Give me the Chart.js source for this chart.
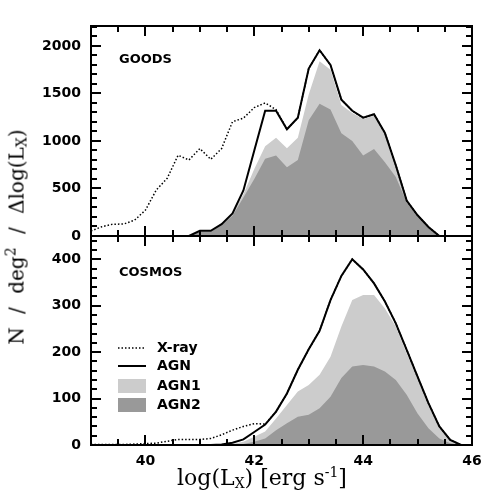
<!DOCTYPE html>
<html>
<head>
<meta charset="utf-8">
<script src="https://cdn.jsdelivr.net/npm/chart.js@4.4.1/dist/chart.umd.min.js"></script>
<style>
  html, body { margin: 0; padding: 0; background: #fff; }
  #wrap { position: relative; width: 498px; height: 498px; overflow: hidden; }
  canvas { position: absolute; left: 0; }
  #topChart { top: 0; }
  #botChart { top: 216px; }
  .title { position: absolute; font-family: 'DejaVu Serif', serif; font-size: 20px; color: #000; white-space: nowrap; }
  .title sub, .title sup { font-size: 14px; }
  .title sub { vertical-align: -3px; }
  .title sup { vertical-align: 8px; line-height: 0; }
  #ytitle { left: 17px; top: 237px; transform: translate(-50%, -50%) rotate(-90deg); word-spacing: 7px; }
  #xtitle { left: 262px; top: 478px; transform: translate(-50%, -50%); font-size: 22px; }
</style>
</head>
<body>
<div id="wrap">
  <canvas id="topChart" width="498" height="256"></canvas>
  <canvas id="botChart" width="498" height="282"></canvas>
  <div class="title" id="ytitle">N / deg<sup>2</sup> / &Delta;log(L<sub>X</sub>)</div>
  <div class="title" id="xtitle">log(L<sub>X</sub>) [erg s<sup>-1</sup>]</div>
</div>
<script>
'use strict';

// ── data: bin centres in log(Lx), 0.2 dex wide ──
const logL = [39.0, 39.2, 39.4, 39.6, 39.8, 40.0, 40.2, 40.4, 40.6, 40.8,
              41.0, 41.2, 41.4, 41.6, 41.8, 42.0, 42.2, 42.4, 42.6, 42.8,
              43.0, 43.2, 43.4, 43.6, 43.8, 44.0, 44.2, 44.4, 44.6, 44.8,
              45.0, 45.2, 45.4, 45.6, 45.8, 46.0];

// GOODS
const goodsXray = [53, 98, 124, 126, 166, 272, 485, 607, 850, 800,
                   920, 807, 920, 1203, 1240, 1352, 1400, 1330, 1123, 1245,
                   1762, 1955, 1800, 1435, 1318, 1245, 1282, 1085, 745, 372,
                   218, 95, 0, null, null, null];
const goodsAgn  = [null, null, null, null, null, null, null, null, null, 0,
                   55, 55, 125, 238, 480, 900, 1319, 1319, 1123, 1245,
                   1762, 1955, 1800, 1435, 1318, 1245, 1282, 1085, 745, 372,
                   218, 95, 0, null, null, null];
const goodsAgn1 = [null, null, null, null, null, null, null, null, null, 0,
                   5, 5, 6, 13, 35, 105, 133, 187, 200, 235,
                   272, 448, 420, 298, 295, 382, 350, 288, 95, 7,
                   8, 5, 0, null, null, null];
const goodsAgn2 = [null, null, null, null, null, null, null, null, null, 0,
                   45, 45, 112, 212, 405, 600, 812, 848, 723, 800,
                   1218, 1392, 1330, 1081, 1000, 848, 915, 775, 620, 355,
                   200, 85, 0, null, null, null];

// COSMOS
const cosmosXray = [1, 1, 1, 1, 2, 3, 4, 8, 12, 12,
                    12, 14, 22, 32, 40, 46, 45, 72, 111, 162,
                    206, 246, 312, 364, 400, 378, 348, 309, 262, 205,
                    147, 90, 40, 11, 0, null];
const cosmosAgn  = [null, null, null, null, null, null, null, null, null, null,
                    0, 0, 1, 5, 12, 28, 44, 72, 111, 162,
                    206, 246, 312, 364, 400, 378, 348, 309, 262, 205,
                    147, 90, 40, 11, 0, null];
const cosmosAgn1 = [null, null, null, null, null, null, null, null, null, null,
                    null, null, 0, 1, 5, 11, 15, 25, 39, 54,
                    64, 72, 86, 111, 143, 151, 154, 136, 115, 89,
                    76, 50, 22, 5, 0, null];
const cosmosAgn2 = [null, null, null, null, null, null, null, null, null, null,
                    null, null, 0, 1, 2, 7, 14, 32, 47, 61,
                    65, 79, 104, 144, 169, 172, 169, 158, 140, 108,
                    68, 36, 14, 4, 0, null];

const xTicks = [40, 42, 44, 46];
const goodsTicks = [0, 500, 1000, 1500, 2000];
const cosmosTicks = [0, 100, 200, 300, 400];

const LIGHT = '#cccccc';
const DARK = '#999999';
const FONT = "'DejaVu Sans', sans-serif";

const pts = (arr) => logL.map((x, i) => ({ x, y: arr[i] })).filter((p) => p.y !== null);

// ─────────────────────────────────────────────
// frame + inward ticks on all four sides (filled rects)
// ─────────────────────────────────────────────
const frameTicks = {
  id: 'frameTicks',
  afterDraw(chart) {
    const o = chart.options.plugins.frameTicks;
    const ctx = chart.ctx;
    const a = chart.chartArea;
    const xs = chart.scales.x, ys = chart.scales.y;
    const yMinor = Number(o.yMinor), yMajor = Number(o.yMajor);
    const isMult = (v, m) => Math.abs(v / m - Math.round(v / m)) < 1e-6;
    const L = Math.round(a.left), R = Math.round(a.right);
    const T = Math.round(a.top), B = Math.round(a.bottom);
    const w = 2;

    ctx.save();
    ctx.fillStyle = '#000';
    for (let v = 39; v <= 46.0001; v += 0.5) {
      const px = Math.round(xs.getPixelForValue(v));
      const len = isMult(v, 2) ? 10 : 6;
      ctx.fillRect(px - 1, B - len, w, len);
      ctx.fillRect(px - 1, T, w, len);
    }
    for (let v = 0; v <= ys.max + 1e-6; v += yMinor) {
      const py = Math.round(ys.getPixelForValue(v));
      const len = isMult(v, yMajor) ? 10 : 6;
      ctx.fillRect(L, py - 1, len, w);
      ctx.fillRect(R - len, py - 1, len, w);
    }
    // box
    ctx.fillRect(L - 1, T - 1, R - L + 2, w);
    ctx.fillRect(L - 1, B - 1, R - L + 2, w);
    ctx.fillRect(L - 1, T - 1, w, B - T + 2);
    ctx.fillRect(R - 1, T - 1, w, B - T + 2);

    // panel name
    ctx.font = 'bold 13px ' + FONT;
    ctx.textBaseline = 'middle';
    ctx.fillText(o.label, L + 28, T + Number(o.labelDy));
    ctx.restore();
  }
};

// ─────────────────────────────────────────────
// legend drawn inside the lower panel
// ─────────────────────────────────────────────
const innerLegend = {
  id: 'innerLegend',
  afterDraw(chart) {
    const o = chart.options.plugins.innerLegend;
    if (!o || !o.show) return;
    const { ctx, chartArea: a } = chart;
    const order = ['X-ray', 'AGN', 'AGN1', 'AGN2'];
    const rows = [112, 130, 150, 169];
    const x0 = a.left + 27, x1 = a.left + 55;
    ctx.save();
    ctx.font = 'bold 14px ' + FONT;
    ctx.textBaseline = 'middle';
    order.forEach((name, i) => {
      const ds = chart.data.datasets.find((d) => d.label === name);
      const yy = a.top + rows[i];
      if (ds.fill) {
        ctx.fillStyle = ds.backgroundColor;
        ctx.fillRect(x0, yy - 7, x1 - x0, 14);
      } else {
        ctx.strokeStyle = ds.borderColor;
        ctx.lineWidth = ds.borderWidth;
        ctx.setLineDash(ds.borderDash || []);
        ctx.beginPath();
        ctx.moveTo(x0, yy); ctx.lineTo(x1, yy);
        ctx.stroke();
        ctx.setLineDash([]);
      }
      ctx.fillStyle = '#000';
      ctx.fillText(name, a.left + 66, yy);
    });
    ctx.restore();
  }
};

function makeDatasets(xray, agn, agn1, agn2) {
  const base = { pointRadius: 0, tension: 0 };
  return [
    { ...base, label: 'AGN', data: pts(agn), borderColor: '#000', borderWidth: 2, fill: false, stack: 'agn' },
    { ...base, label: 'X-ray', data: pts(xray), borderColor: '#000', borderWidth: 1.5, borderDash: [1.5, 2], fill: false, stack: 'xray' },
    { ...base, label: 'AGN2', data: pts(agn2), borderWidth: 0, backgroundColor: DARK, fill: 'origin', stack: 'type' },
    { ...base, label: 'AGN1', data: pts(agn1), borderWidth: 0, backgroundColor: LIGHT, fill: 'origin', stack: 'type' },
  ];
}

function makeChart(el, cfg) {
  return new Chart(el, {
    type: 'line',
    data: { datasets: makeDatasets(cfg.xray, cfg.agn, cfg.agn1, cfg.agn2) },
    plugins: [frameTicks, innerLegend],
    options: {
      responsive: false,
      animation: false,
      events: [],
      layout: { padding: cfg.padding },
      plugins: {
        legend: { display: false },
        tooltip: { enabled: false },
        frameTicks: { label: cfg.label, labelDy: cfg.labelDy, yMinor: cfg.yMinor, yMajor: cfg.yMajor },
        innerLegend: { show: cfg.showLegend },
      },
      scales: {
        x: {
          type: 'linear',
          min: 39,
          max: 46,
          display: cfg.showX,
          border: { display: false },
          grid: { display: false, drawTicks: false },
          afterBuildTicks: (s) => { s.ticks = xTicks.map((v) => ({ value: v })); },
          afterFit: (s) => { s.height = cfg.showX ? 30 : 0; },
          ticks: {
            padding: 8,
            maxRotation: 0,
            autoSkip: false,
            color: '#000',
            font: { family: FONT, size: 14, weight: 'bold' },
            callback: (v) => String(v),
          },
        },
        y: {
          min: 0,
          max: cfg.yMax,
          stacked: true,
          border: { display: false },
          grid: { display: false, drawTicks: false },
          afterBuildTicks: (s) => { s.ticks = cfg.yTicks.map((v) => ({ value: v })); },
          afterFit: (s) => { s.width = 91; },
          ticks: {
            padding: 10,
            color: '#000',
            font: { family: FONT, size: 14, weight: 'bold' },
            callback: (v) => String(v),
          },
        },
      },
    },
  });
}

makeChart(document.getElementById('topChart'), {
  xray: goodsXray, agn: goodsAgn, agn1: goodsAgn1, agn2: goodsAgn2,
  label: 'GOODS', labelDy: 34, yMax: 2210, yTicks: goodsTicks, yMinor: 100, yMajor: 500,
  showX: false, showLegend: false,
  padding: { top: 26, right: 26, bottom: 20, left: 0 },
});

makeChart(document.getElementById('botChart'), {
  xray: cosmosXray, agn: cosmosAgn, agn1: cosmosAgn1, agn2: cosmosAgn2,
  label: 'COSMOS', labelDy: 37, yMax: 450, yTicks: cosmosTicks, yMinor: 20, yMajor: 100,
  showX: true, showLegend: true,
  padding: { top: 20, right: 26, bottom: 23, left: 0 },
});
</script>
</body>
</html>
